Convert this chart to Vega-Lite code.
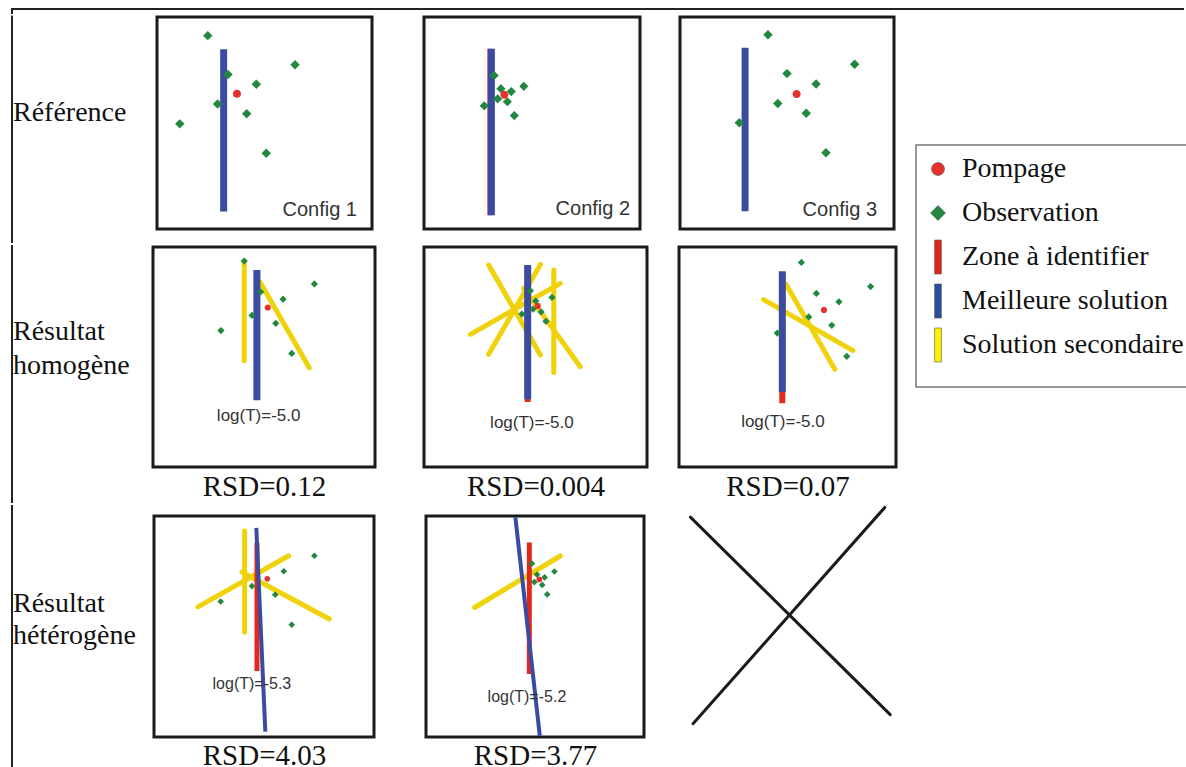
{
"$schema": "https://vega.github.io/schema/vega-lite/v6.json",
"padding": {"left": 10, "top": 7, "right": 0, "bottom": 0},
"background": "white",
"config": {"view": {"stroke": null}, "font": "Liberation Sans"},
"resolve": {"scale": {"color": "shared", "shape": "shared", "stroke": "shared"}},
"datasets": {
"d": [
{"p":"A1","kind":"seg","type":"Meilleure solution","x":31.0,"y":84.8,"x2":31.0,"y2":8.3},
{"p":"A1","kind":"well","type":"Observation","x":23.6,"y":91.2},
{"p":"A1","kind":"well","type":"Observation","x":64.2,"y":77.5},
{"p":"A1","kind":"well","type":"Observation","x":33.0,"y":72.9},
{"p":"A1","kind":"well","type":"Observation","x":46.2,"y":68.3},
{"p":"A1","kind":"well","type":"Observation","x":28.2,"y":59.0},
{"p":"A1","kind":"well","type":"Observation","x":41.7,"y":54.4},
{"p":"A1","kind":"well","type":"Observation","x":10.6,"y":49.6},
{"p":"A1","kind":"well","type":"Observation","x":50.8,"y":35.7},
{"p":"A1","kind":"well","type":"Pompage","x":37.2,"y":63.8},
{"p":"A1","kind":"note","label":"Config 1","x":93.0,"y":9.1},

{"p":"A2","kind":"seg","type":"Zone à identifier","x":30.5,"y":85.0,"x2":30.5,"y2":6.5},
{"p":"A2","kind":"seg","type":"Meilleure solution","x":31.2,"y":85.0,"x2":31.2,"y2":6.5},
{"p":"A2","kind":"well","type":"Observation","x":32.5,"y":72.4},
{"p":"A2","kind":"well","type":"Observation","x":46.2,"y":67.3},
{"p":"A2","kind":"well","type":"Observation","x":35.6,"y":66.2},
{"p":"A2","kind":"well","type":"Observation","x":40.4,"y":64.8},
{"p":"A2","kind":"well","type":"Observation","x":34.1,"y":61.4},
{"p":"A2","kind":"well","type":"Observation","x":38.6,"y":60.0},
{"p":"A2","kind":"well","type":"Observation","x":27.9,"y":58.1},
{"p":"A2","kind":"well","type":"Observation","x":41.8,"y":53.5},
{"p":"A2","kind":"well","type":"Pompage","x":37.2,"y":63.3},
{"p":"A2","kind":"note","label":"Config 2","x":95.4,"y":9.3},

{"p":"A3","kind":"seg","type":"Meilleure solution","x":30.4,"y":85.5,"x2":30.4,"y2":8.4},
{"p":"A3","kind":"well","type":"Observation","x":41.1,"y":91.6},
{"p":"A3","kind":"well","type":"Observation","x":81.6,"y":77.7},
{"p":"A3","kind":"well","type":"Observation","x":50.0,"y":73.3},
{"p":"A3","kind":"well","type":"Observation","x":63.6,"y":68.4},
{"p":"A3","kind":"well","type":"Observation","x":45.7,"y":59.2},
{"p":"A3","kind":"well","type":"Observation","x":59.0,"y":54.6},
{"p":"A3","kind":"well","type":"Observation","x":27.7,"y":50.1},
{"p":"A3","kind":"well","type":"Observation","x":68.2,"y":36.0},
{"p":"A3","kind":"well","type":"Pompage","x":54.5,"y":63.7},
{"p":"A3","kind":"note","label":"Config 3","x":92.1,"y":9.0},

{"p":"B1","kind":"seg","type":"Solution secondaire","x":41.1,"y":93.6,"x2":41.1,"y2":48.3},
{"p":"B1","kind":"seg","type":"Solution secondaire","x":48.1,"y":84.2,"x2":70.4,"y2":45.1},
{"p":"B1","kind":"seg","type":"Meilleure solution","x":46.8,"y":89.6,"x2":46.8,"y2":30.3},
{"p":"B1","kind":"well","type":"Observation","x":41.1,"y":93.6},
{"p":"B1","kind":"well","type":"Observation","x":72.7,"y":83.2},
{"p":"B1","kind":"well","type":"Observation","x":48.5,"y":79.6},
{"p":"B1","kind":"well","type":"Observation","x":58.6,"y":76.3},
{"p":"B1","kind":"well","type":"Observation","x":44.6,"y":68.9},
{"p":"B1","kind":"well","type":"Observation","x":55.3,"y":65.3},
{"p":"B1","kind":"well","type":"Observation","x":30.6,"y":62.0},
{"p":"B1","kind":"well","type":"Observation","x":62.5,"y":51.6},
{"p":"B1","kind":"well","type":"Pompage","x":51.7,"y":72.5},
{"p":"B1","kind":"note","label":"log(T)=-5.0","x":47.6,"y":23.3},

{"p":"B2","kind":"seg","type":"Solution secondaire","x":29.0,"y":91.8,"x2":52.2,"y2":50.9},
{"p":"B2","kind":"seg","type":"Solution secondaire","x":52.2,"y":92.1,"x2":29.0,"y2":51.2},
{"p":"B2","kind":"seg","type":"Solution secondaire","x":61.1,"y":83.5,"x2":20.8,"y2":60.3},
{"p":"B2","kind":"seg","type":"Solution secondaire","x":58.2,"y":89.5,"x2":58.2,"y2":43.0},
{"p":"B2","kind":"seg","type":"Solution secondaire","x":44.7,"y":81.2,"x2":70.1,"y2":45.6},
{"p":"B2","kind":"seg","type":"Zone à identifier","x":46.5,"y":91.8,"x2":46.5,"y2":29.6},
{"p":"B2","kind":"seg","type":"Meilleure solution","x":46.5,"y":91.8,"x2":46.5,"y2":30.8},
{"p":"B2","kind":"well","type":"Observation","x":47.7,"y":80.1},
{"p":"B2","kind":"well","type":"Observation","x":50.1,"y":75.5},
{"p":"B2","kind":"well","type":"Observation","x":57.4,"y":77.1},
{"p":"B2","kind":"well","type":"Observation","x":48.9,"y":71.8},
{"p":"B2","kind":"well","type":"Observation","x":52.5,"y":70.5},
{"p":"B2","kind":"well","type":"Observation","x":43.9,"y":69.5},
{"p":"B2","kind":"well","type":"Observation","x":54.7,"y":66.2},
{"p":"B2","kind":"well","type":"Pompage","x":51.0,"y":73.2},
{"p":"B2","kind":"note","label":"log(T)=-5.0","x":48.4,"y":19.9},

{"p":"B3","kind":"seg","type":"Solution secondaire","x":39.0,"y":76.1,"x2":80.2,"y2":52.9},
{"p":"B3","kind":"seg","type":"Solution secondaire","x":49.4,"y":83.0,"x2":71.8,"y2":44.4},
{"p":"B3","kind":"seg","type":"Zone à identifier","x":47.6,"y":88.9,"x2":47.6,"y2":29.0},
{"p":"B3","kind":"seg","type":"Meilleure solution","x":47.6,"y":88.9,"x2":47.6,"y2":34.1},
{"p":"B3","kind":"well","type":"Observation","x":56.4,"y":93.0},
{"p":"B3","kind":"well","type":"Observation","x":88.3,"y":82.0},
{"p":"B3","kind":"well","type":"Observation","x":63.3,"y":78.9},
{"p":"B3","kind":"well","type":"Observation","x":73.7,"y":75.1},
{"p":"B3","kind":"well","type":"Observation","x":59.8,"y":68.2},
{"p":"B3","kind":"well","type":"Observation","x":70.4,"y":64.4},
{"p":"B3","kind":"well","type":"Observation","x":45.3,"y":60.9},
{"p":"B3","kind":"well","type":"Observation","x":77.3,"y":50.3},
{"p":"B3","kind":"well","type":"Pompage","x":66.8,"y":71.4},
{"p":"B3","kind":"note","label":"log(T)=-5.0","x":47.9,"y":20.3},

{"p":"C1","kind":"seg","type":"Solution secondaire","x":41.2,"y":93.2,"x2":41.2,"y2":47.5},
{"p":"C1","kind":"seg","type":"Solution secondaire","x":20.0,"y":58.9,"x2":61.2,"y2":82.0},
{"p":"C1","kind":"seg","type":"Solution secondaire","x":40.0,"y":74.6,"x2":79.7,"y2":53.4},
{"p":"C1","kind":"seg","type":"Zone à identifier","x":46.8,"y":87.9,"x2":46.8,"y2":29.9},
{"p":"C1","kind":"seg","type":"Meilleure solution","x":46.5,"y":94.6,"x2":50.6,"y2":2.4},
{"p":"C1","kind":"well","type":"Observation","x":72.9,"y":82.0},
{"p":"C1","kind":"well","type":"Observation","x":59.0,"y":75.0},
{"p":"C1","kind":"well","type":"Observation","x":44.5,"y":68.3},
{"p":"C1","kind":"well","type":"Observation","x":55.1,"y":64.4},
{"p":"C1","kind":"well","type":"Observation","x":30.3,"y":61.3},
{"p":"C1","kind":"well","type":"Observation","x":62.6,"y":50.8},
{"p":"C1","kind":"well","type":"Pompage","x":51.5,"y":71.6},
{"p":"C1","kind":"note","label":"log(T)=-5.3","x":44.5,"y":24.0},

{"p":"C2","kind":"seg","type":"Solution secondaire","x":22.3,"y":58.6,"x2":61.6,"y2":81.9},
{"p":"C2","kind":"seg","type":"Zone à identifier","x":47.4,"y":88.0,"x2":47.4,"y2":28.5},
{"p":"C2","kind":"seg","type":"Meilleure solution","x":41.0,"y":99.4,"x2":52.2,"y2":0.6},
{"p":"C2","kind":"well","type":"Observation","x":48.6,"y":78.5},
{"p":"C2","kind":"well","type":"Observation","x":58.9,"y":74.9},
{"p":"C2","kind":"well","type":"Observation","x":50.9,"y":73.5},
{"p":"C2","kind":"well","type":"Observation","x":54.4,"y":72.2},
{"p":"C2","kind":"well","type":"Observation","x":49.7,"y":70.1},
{"p":"C2","kind":"well","type":"Observation","x":53.3,"y":68.8},
{"p":"C2","kind":"well","type":"Observation","x":55.6,"y":64.5},
{"p":"C2","kind":"well","type":"Pompage","x":52.0,"y":71.3},
{"p":"C2","kind":"note","label":"log(T)=-5.2","x":46.3,"y":18.0}
]
},
"spacing": 0,
"vconcat": [
{"width": 1172, "height": 4, "data": {"values": [{}]}, "layer": [
  {"mark": {"type": "rule", "stroke": "#222", "strokeWidth": 2}, "encoding": {"y": {"value": 0}}},
  {"mark": {"type": "rule", "stroke": "#222", "strokeWidth": 2, "strokeCap": "square"}, "encoding": {"x": {"value": 0}}}
]},
{"spacing": 17, "hconcat": [
{"spacing": 0, "vconcat": [
{"spacing": 0, "hconcat": [
  {"width": 143, "height": 223, "layer": [
    {"data": {"values": [{}]}, "mark": {"type": "rule", "stroke": "#222", "strokeWidth": 2, "strokeCap": "square"}, "encoding": {"x": {"value": 0}, "y": {"value": -0.5}, "y2": {"value": 225}}},
    {"data": {"values": [{"label": "Référence"}]}, "mark": {"type": "text", "align": "left", "baseline": "middle", "font": "Liberation Serif", "fontSize": 28, "color": "#111", "dy": -15.5}, "encoding": {"text": {"field": "label"}, "x": {"value": 1}}}
  ]},
  {"spacing": 48, "hconcat": [
    {"width": 215, "height": 212, "view": {"stroke": "#1a1a1a", "strokeWidth": 3}, "data": {"name": "d"}, "transform": [{"filter": "datum.p == 'A1'"}],
     "encoding": {"x": {"field": "x", "type": "quantitative", "scale": {"domain": [0, 100]}, "axis": null}, "y": {"field": "y", "type": "quantitative", "scale": {"domain": [0, 100]}, "axis": null}},
     "layer": [
      {"transform": [{"filter": "datum.kind == 'seg' && datum.type == 'Meilleure solution'"}], "mark": {"type": "rule", "strokeWidth": 7}, "encoding": {"x2": {"field": "x2"}, "y2": {"field": "y2"}, "stroke": {"field": "type", "type": "nominal", "legend": null, "scale": {"domain": ["Pompage", "Observation", "Zone à identifier", "Meilleure solution", "Solution secondaire"], "range": ["#e4312b", "#23883f", "#e3281e", "#3b4ca0", "#efd20a"]}}}},
      {"transform": [{"filter": "datum.kind == 'well'"}], "mark": {"type": "point", "filled": true, "size": 460, "opacity": 1},
       "encoding": {
        "color": {"field": "type", "type": "nominal", "legend": null, "scale": {"domain": ["Pompage", "Observation", "Zone à identifier", "Meilleure solution", "Solution secondaire"], "range": ["#e4312b", "#23883f", "#e0261b", "#2a4d9c", "#fff200"]}},
        "shape": {"field": "type", "type": "nominal", "legend": null, "scale": {"domain": ["Pompage", "Observation", "Zone à identifier", "Meilleure solution", "Solution secondaire"], "range": ["M0,-0.38A0.38,0.38,0,1,1,0,0.38A0.38,0.38,0,1,1,0,-0.38Z", "M0,-0.44L0.44,0L0,0.44L-0.44,0Z", "M-0.2,-1H0.2V1H-0.2Z", "M-0.2,-1H0.2V1H-0.2Z", "M-0.2,-1H0.2V1H-0.2Z"]}}}},
      {"transform": [{"filter": "datum.kind == 'note'"}], "mark": {"type": "text", "align": "right", "baseline": "middle", "font": "Liberation Sans", "fontSize": 20, "color": "#333"}, "encoding": {"text": {"field": "label"}}}
     ]},
    {"spacing": 36, "hconcat": [
      {"width": 216, "height": 212, "view": {"stroke": "#1a1a1a", "strokeWidth": 3}, "data": {"name": "d"}, "transform": [{"filter": "datum.p == 'A2'"}],
       "encoding": {"x": {"field": "x", "type": "quantitative", "scale": {"domain": [0, 100]}, "axis": null}, "y": {"field": "y", "type": "quantitative", "scale": {"domain": [0, 100]}, "axis": null}},
       "layer": [
        {"transform": [{"filter": "datum.kind == 'seg' && datum.type == 'Zone à identifier'"}], "mark": {"type": "rule", "strokeWidth": 5}, "encoding": {"x2": {"field": "x2"}, "y2": {"field": "y2"}, "stroke": {"field": "type", "type": "nominal", "legend": null}}},
        {"transform": [{"filter": "datum.kind == 'seg' && datum.type == 'Meilleure solution'"}], "mark": {"type": "rule", "strokeWidth": 7}, "encoding": {"x2": {"field": "x2"}, "y2": {"field": "y2"}, "stroke": {"field": "type", "type": "nominal", "legend": null}}},
        {"transform": [{"filter": "datum.kind == 'well'"}], "mark": {"type": "point", "filled": true, "size": 430, "opacity": 1}, "encoding": {"color": {"field": "type", "type": "nominal", "legend": null}, "shape": {"field": "type", "type": "nominal", "legend": null}}},
        {"transform": [{"filter": "datum.kind == 'note'"}], "mark": {"type": "text", "align": "right", "baseline": "middle", "font": "Liberation Sans", "fontSize": 20, "color": "#333"}, "encoding": {"text": {"field": "label"}}}
       ]},
      {"width": 214, "height": 212, "view": {"stroke": "#1a1a1a", "strokeWidth": 3}, "data": {"name": "d"}, "transform": [{"filter": "datum.p == 'A3'"}],
       "encoding": {"x": {"field": "x", "type": "quantitative", "scale": {"domain": [0, 100]}, "axis": null}, "y": {"field": "y", "type": "quantitative", "scale": {"domain": [0, 100]}, "axis": null}},
       "layer": [
        {"transform": [{"filter": "datum.kind == 'seg' && datum.type == 'Meilleure solution'"}], "mark": {"type": "rule", "strokeWidth": 7}, "encoding": {"x2": {"field": "x2"}, "y2": {"field": "y2"}, "stroke": {"field": "type", "type": "nominal", "legend": null}}},
        {"transform": [{"filter": "datum.kind == 'well'"}], "mark": {"type": "point", "filled": true, "size": 460, "opacity": 1}, "encoding": {"color": {"field": "type", "type": "nominal", "legend": null}, "shape": {"field": "type", "type": "nominal", "legend": null}}},
        {"transform": [{"filter": "datum.kind == 'note'"}], "mark": {"type": "text", "align": "right", "baseline": "middle", "font": "Liberation Sans", "fontSize": 20, "color": "#333"}, "encoding": {"text": {"field": "label"}}}
       ]}
    ]}
  ]}
]},
{"spacing": 0, "hconcat": [
  {"width": 139, "height": 253, "layer": [
    {"data": {"values": [{}]}, "mark": {"type": "rule", "stroke": "#222", "strokeWidth": 2, "strokeCap": "square"}, "encoding": {"x": {"value": 0}, "y": {"value": -1}, "y2": {"value": 255}}},
    {"data": {"values": [{"label": "Résultat\nhomogène"}]}, "mark": {"type": "text", "align": "left", "baseline": "middle", "font": "Liberation Serif", "fontSize": 28, "lineHeight": 34, "lineBreak": "\n", "color": "#111", "dy": -41.5}, "encoding": {"text": {"field": "label"}, "x": {"value": 1}}}
  ]},
  {"spacing": 45, "hconcat": [
    {"width": 222, "height": 220, "view": {"stroke": "#1a1a1a", "strokeWidth": 3}, "data": {"name": "d"}, "transform": [{"filter": "datum.p == 'B1'"}],
     "encoding": {"x": {"field": "x", "type": "quantitative", "scale": {"domain": [0, 100]}, "axis": {"title": "RSD=0.12", "domain": false, "ticks": false, "labels": false, "grid": false, "titleFont": "Liberation Serif", "titleFontSize": 29, "titleFontWeight": "normal", "titleColor": "#111", "titlePadding": 5}}, "y": {"field": "y", "type": "quantitative", "scale": {"domain": [0, 100]}, "axis": null}},
     "layer": [
      {"transform": [{"filter": "datum.kind == 'seg' && datum.type == 'Solution secondaire'"}], "mark": {"type": "rule", "strokeWidth": 5, "strokeCap": "round"}, "encoding": {"x2": {"field": "x2"}, "y2": {"field": "y2"}, "stroke": {"field": "type", "type": "nominal", "legend": null}}},
      {"transform": [{"filter": "datum.kind == 'seg' && datum.type == 'Meilleure solution'"}], "mark": {"type": "rule", "strokeWidth": 7}, "encoding": {"x2": {"field": "x2"}, "y2": {"field": "y2"}, "stroke": {"field": "type", "type": "nominal", "legend": null}}},
      {"transform": [{"filter": "datum.kind == 'well'"}], "mark": {"type": "point", "filled": true, "size": 270, "opacity": 1}, "encoding": {"color": {"field": "type", "type": "nominal", "legend": null}, "shape": {"field": "type", "type": "nominal", "legend": null}}},
      {"transform": [{"filter": "datum.kind == 'note'"}], "mark": {"type": "text", "align": "center", "baseline": "middle", "font": "Liberation Sans", "fontSize": 17, "color": "#333"}, "encoding": {"text": {"field": "label"}}}
     ]},
    {"spacing": 28, "hconcat": [
      {"width": 223, "height": 220, "view": {"stroke": "#1a1a1a", "strokeWidth": 3}, "data": {"name": "d"}, "transform": [{"filter": "datum.p == 'B2'"}],
       "encoding": {"x": {"field": "x", "type": "quantitative", "scale": {"domain": [0, 100]}, "axis": {"title": "RSD=0.004", "domain": false, "ticks": false, "labels": false, "grid": false, "titleFont": "Liberation Serif", "titleFontSize": 29, "titleFontWeight": "normal", "titleColor": "#111", "titlePadding": 5}}, "y": {"field": "y", "type": "quantitative", "scale": {"domain": [0, 100]}, "axis": null}},
       "layer": [
        {"transform": [{"filter": "datum.kind == 'seg' && datum.type == 'Solution secondaire'"}], "mark": {"type": "rule", "strokeWidth": 5, "strokeCap": "round"}, "encoding": {"x2": {"field": "x2"}, "y2": {"field": "y2"}, "stroke": {"field": "type", "type": "nominal", "legend": null}}},
        {"transform": [{"filter": "datum.kind == 'seg' && datum.type == 'Zone à identifier'"}], "mark": {"type": "rule", "strokeWidth": 6}, "encoding": {"x2": {"field": "x2"}, "y2": {"field": "y2"}, "stroke": {"field": "type", "type": "nominal", "legend": null}}},
        {"transform": [{"filter": "datum.kind == 'seg' && datum.type == 'Meilleure solution'"}], "mark": {"type": "rule", "strokeWidth": 7}, "encoding": {"x2": {"field": "x2"}, "y2": {"field": "y2"}, "stroke": {"field": "type", "type": "nominal", "legend": null}}},
        {"transform": [{"filter": "datum.kind == 'well'"}], "mark": {"type": "point", "filled": true, "size": 270, "opacity": 1}, "encoding": {"color": {"field": "type", "type": "nominal", "legend": null}, "shape": {"field": "type", "type": "nominal", "legend": null}}},
        {"transform": [{"filter": "datum.kind == 'note'"}], "mark": {"type": "text", "align": "center", "baseline": "middle", "font": "Liberation Sans", "fontSize": 17, "color": "#333"}, "encoding": {"text": {"field": "label"}}}
       ]},
      {"width": 217, "height": 220, "view": {"stroke": "#1a1a1a", "strokeWidth": 3}, "data": {"name": "d"}, "transform": [{"filter": "datum.p == 'B3'"}],
       "encoding": {"x": {"field": "x", "type": "quantitative", "scale": {"domain": [0, 100]}, "axis": {"title": "RSD=0.07", "domain": false, "ticks": false, "labels": false, "grid": false, "titleFont": "Liberation Serif", "titleFontSize": 29, "titleFontWeight": "normal", "titleColor": "#111", "titlePadding": 5}}, "y": {"field": "y", "type": "quantitative", "scale": {"domain": [0, 100]}, "axis": null}},
       "layer": [
        {"transform": [{"filter": "datum.kind == 'seg' && datum.type == 'Solution secondaire'"}], "mark": {"type": "rule", "strokeWidth": 5, "strokeCap": "round"}, "encoding": {"x2": {"field": "x2"}, "y2": {"field": "y2"}, "stroke": {"field": "type", "type": "nominal", "legend": null}}},
        {"transform": [{"filter": "datum.kind == 'seg' && datum.type == 'Zone à identifier'"}], "mark": {"type": "rule", "strokeWidth": 6}, "encoding": {"x2": {"field": "x2"}, "y2": {"field": "y2"}, "stroke": {"field": "type", "type": "nominal", "legend": null}}},
        {"transform": [{"filter": "datum.kind == 'seg' && datum.type == 'Meilleure solution'"}], "mark": {"type": "rule", "strokeWidth": 7}, "encoding": {"x2": {"field": "x2"}, "y2": {"field": "y2"}, "stroke": {"field": "type", "type": "nominal", "legend": null}}},
        {"transform": [{"filter": "datum.kind == 'well'"}], "mark": {"type": "point", "filled": true, "size": 270, "opacity": 1}, "encoding": {"color": {"field": "type", "type": "nominal", "legend": null}, "shape": {"field": "type", "type": "nominal", "legend": null}}},
        {"transform": [{"filter": "datum.kind == 'note'"}], "mark": {"type": "text", "align": "center", "baseline": "middle", "font": "Liberation Sans", "fontSize": 17, "color": "#333"}, "encoding": {"text": {"field": "label"}}}
       ]}
    ]}
  ]}
]},
{"spacing": 0, "hconcat": [
  {"width": 140, "height": 250, "layer": [
    {"data": {"values": [{}]}, "mark": {"type": "rule", "stroke": "#222", "strokeWidth": 2, "strokeCap": "square"}, "encoding": {"x": {"value": 0}, "y": {"value": -10}, "y2": {"value": 252}}},
    {"data": {"values": [{"label": "Résultat\nhétérogène"}]}, "mark": {"type": "text", "align": "left", "baseline": "middle", "font": "Liberation Serif", "fontSize": 28, "lineHeight": 32, "lineBreak": "\n", "color": "#111", "dy": -37}, "encoding": {"text": {"field": "label"}, "x": {"value": 1}}}
  ]},
  {"spacing": 48, "hconcat": [
    {"width": 220, "height": 221, "view": {"stroke": "#1a1a1a", "strokeWidth": 3}, "data": {"name": "d"}, "transform": [{"filter": "datum.p == 'C1'"}],
     "encoding": {"x": {"field": "x", "type": "quantitative", "scale": {"domain": [0, 100]}, "axis": {"title": "RSD=4.03", "domain": false, "ticks": false, "labels": false, "grid": false, "titleFont": "Liberation Serif", "titleFontSize": 29, "titleFontWeight": "normal", "titleColor": "#111", "titlePadding": 4}}, "y": {"field": "y", "type": "quantitative", "scale": {"domain": [0, 100]}, "axis": null}},
     "layer": [
      {"transform": [{"filter": "datum.kind == 'seg' && datum.type == 'Solution secondaire'"}], "mark": {"type": "rule", "strokeWidth": 5, "strokeCap": "round"}, "encoding": {"x2": {"field": "x2"}, "y2": {"field": "y2"}, "stroke": {"field": "type", "type": "nominal", "legend": null}}},
      {"transform": [{"filter": "datum.kind == 'seg' && datum.type == 'Zone à identifier'"}], "mark": {"type": "rule", "strokeWidth": 5}, "encoding": {"x2": {"field": "x2"}, "y2": {"field": "y2"}, "stroke": {"field": "type", "type": "nominal", "legend": null}}},
      {"transform": [{"filter": "datum.kind == 'seg' && datum.type == 'Meilleure solution'"}], "mark": {"type": "rule", "strokeWidth": 4}, "encoding": {"x2": {"field": "x2"}, "y2": {"field": "y2"}, "stroke": {"field": "type", "type": "nominal", "legend": null}}},
      {"transform": [{"filter": "datum.kind == 'well'"}], "mark": {"type": "point", "filled": true, "size": 230, "opacity": 1}, "encoding": {"color": {"field": "type", "type": "nominal", "legend": null}, "shape": {"field": "type", "type": "nominal", "legend": null}}},
      {"transform": [{"filter": "datum.kind == 'note'"}], "mark": {"type": "text", "align": "center", "baseline": "middle", "font": "Liberation Sans", "fontSize": 16, "color": "#333"}, "encoding": {"text": {"field": "label"}}}
     ]},
    {"spacing": 42, "hconcat": [
      {"width": 218, "height": 221, "view": {"stroke": "#1a1a1a", "strokeWidth": 3}, "data": {"name": "d"}, "transform": [{"filter": "datum.p == 'C2'"}],
       "encoding": {"x": {"field": "x", "type": "quantitative", "scale": {"domain": [0, 100]}, "axis": {"title": "RSD=3.77", "domain": false, "ticks": false, "labels": false, "grid": false, "titleFont": "Liberation Serif", "titleFontSize": 29, "titleFontWeight": "normal", "titleColor": "#111", "titlePadding": 4}}, "y": {"field": "y", "type": "quantitative", "scale": {"domain": [0, 100]}, "axis": null}},
       "layer": [
        {"transform": [{"filter": "datum.kind == 'seg' && datum.type == 'Solution secondaire'"}], "mark": {"type": "rule", "strokeWidth": 5, "strokeCap": "round"}, "encoding": {"x2": {"field": "x2"}, "y2": {"field": "y2"}, "stroke": {"field": "type", "type": "nominal", "legend": null}}},
        {"transform": [{"filter": "datum.kind == 'seg' && datum.type == 'Zone à identifier'"}], "mark": {"type": "rule", "strokeWidth": 5}, "encoding": {"x2": {"field": "x2"}, "y2": {"field": "y2"}, "stroke": {"field": "type", "type": "nominal", "legend": null}}},
        {"transform": [{"filter": "datum.kind == 'seg' && datum.type == 'Meilleure solution'"}], "mark": {"type": "rule", "strokeWidth": 4}, "encoding": {"x2": {"field": "x2"}, "y2": {"field": "y2"}, "stroke": {"field": "type", "type": "nominal", "legend": null}}},
        {"transform": [{"filter": "datum.kind == 'well'"}], "mark": {"type": "point", "filled": true, "size": 230, "opacity": 1}, "encoding": {"color": {"field": "type", "type": "nominal", "legend": null}, "shape": {"field": "type", "type": "nominal", "legend": null}}},
        {"transform": [{"filter": "datum.kind == 'note'"}], "mark": {"type": "text", "align": "center", "baseline": "middle", "font": "Liberation Sans", "fontSize": 16, "color": "#333"}, "encoding": {"text": {"field": "label"}}}
       ]},
      {"width": 200, "height": 221,
       "data": {"values": [{"x": 0.2, "y": 99.5, "x2": 100.1, "y2": 10.1}, {"x": 97.4, "y": 103.9, "x2": 1.5, "y2": 6.0}]},
       "mark": {"type": "rule", "stroke": "#1a1a1a", "strokeWidth": 3, "strokeCap": "round"},
       "encoding": {"x": {"field": "x", "type": "quantitative", "scale": {"domain": [0, 100]}, "axis": null}, "y": {"field": "y", "type": "quantitative", "scale": {"domain": [0, 100]}, "axis": null}, "x2": {"field": "x2"}, "y2": {"field": "y2"}}}
    ]}
  ]}
]}
]},
{"spacing": 0, "vconcat": [
  {"width": 272, "height": 127, "data": {"values": []}, "mark": "text"},
  {"width": 272, "height": 242, "view": {"stroke": "#777", "strokeWidth": 1.5, "fill": "white"},
   "data": {"values": [{"type": "Pompage"}, {"type": "Observation"}, {"type": "Zone à identifier"}, {"type": "Meilleure solution"}, {"type": "Solution secondaire"}]},
   "encoding": {"y": {"field": "type", "type": "nominal", "sort": null, "scale": {"type": "point", "padding": 0, "domain": ["Pompage", "Observation", "Zone à identifier", "Meilleure solution", "Solution secondaire"], "range": [24, 200]}, "axis": null}},
   "layer": [
    {"mark": {"type": "point", "filled": true, "size": 1156, "opacity": 1, "stroke": "#555", "strokeWidth": 0.6}, "encoding": {"x": {"value": 22}, "color": {"field": "type", "type": "nominal", "legend": null}, "shape": {"field": "type", "type": "nominal", "legend": null}}},
    {"mark": {"type": "text", "align": "left", "baseline": "middle", "font": "Liberation Serif", "fontSize": 28, "color": "#111"}, "encoding": {"x": {"value": 46}, "text": {"field": "type"}}}
   ]}
]}
]}
]
}
